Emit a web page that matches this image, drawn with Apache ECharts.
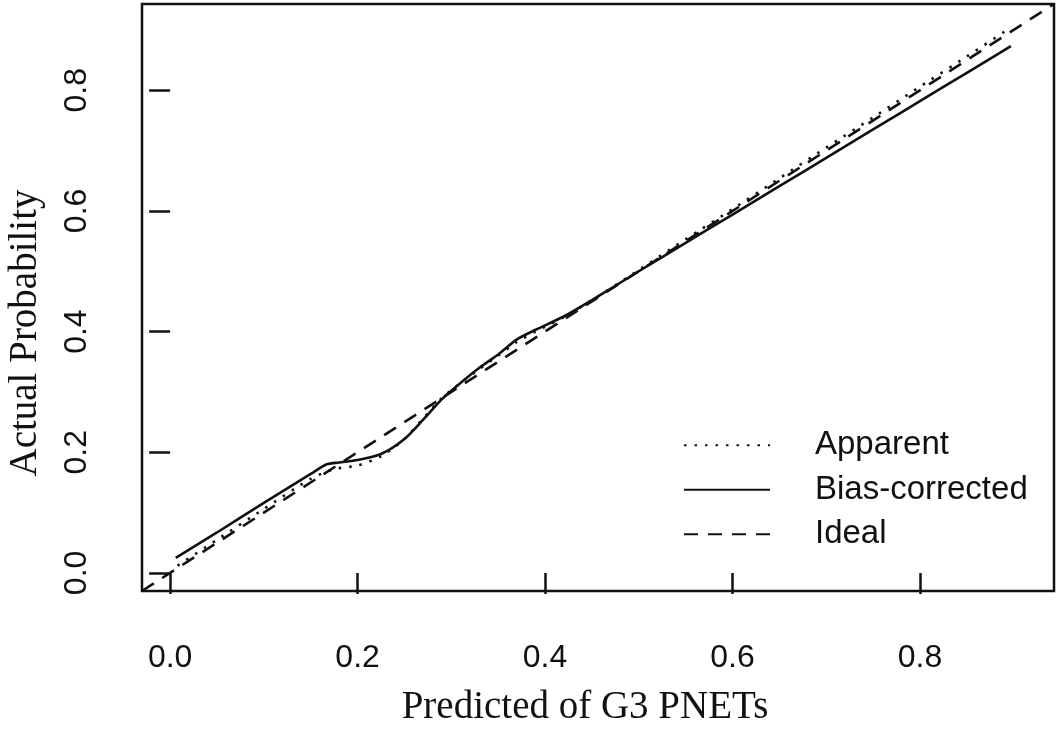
<!DOCTYPE html>
<html><head><meta charset="utf-8">
<script src="https://cdn.jsdelivr.net/npm/echarts@6/dist/echarts.min.js"></script>
<style>html,body{margin:0;padding:0;background:#fff}#c{width:1063px;height:731px}</style>
</head><body><div id="c"></div>
<script>
const tickValues = [0.0, 0.2, 0.4, 0.6, 0.8];
const axisMin = -0.03;
const axisMax = 0.943;
const seriesNames = ['Apparent', 'Bias-corrected', 'Ideal'];
const xTitle = 'Predicted of G3 PNETs';
const yTitle = 'Actual Probability';

const apparentX = [0.008, 0.05, 0.10, 0.15, 0.175, 0.20, 0.225, 0.25, 0.27, 0.29, 0.31, 0.33, 0.35, 0.37, 0.39, 0.42, 0.45, 0.50, 0.55, 0.60, 0.65, 0.70, 0.75, 0.80, 0.85, 0.89];
const apparentY = [0.012, 0.055, 0.106, 0.156, 0.172, 0.178, 0.193, 0.222, 0.256, 0.290, 0.315, 0.338, 0.360, 0.383, 0.400, 0.424, 0.452, 0.502, 0.553, 0.603, 0.654, 0.705, 0.755, 0.806, 0.856, 0.897];

const biasX = [0.006, 0.05, 0.10, 0.15, 0.167, 0.18, 0.20, 0.225, 0.25, 0.27, 0.29, 0.31, 0.33, 0.35, 0.37, 0.39, 0.42, 0.45, 0.50, 0.55, 0.60, 0.65, 0.70, 0.75, 0.80, 0.85, 0.897];
const biasY = [0.025, 0.067, 0.116, 0.164, 0.180, 0.183, 0.187, 0.197, 0.222, 0.254, 0.288, 0.315, 0.340, 0.362, 0.387, 0.403, 0.425, 0.452, 0.500, 0.547, 0.594, 0.641, 0.688, 0.735, 0.782, 0.829, 0.873];

const idealX = [-0.03, 0.943];
const idealY = [-0.03, 0.943];

function pairs(xs, ys) { return xs.map((x, i) => [x, ys[i]]); }

const ink = '#111';
const sans = "'Liberation Sans', Arial, sans-serif";
const serif = "'Liberation Serif', 'Times New Roman', serif";

const chart = echarts.init(document.getElementById('c'), null, {renderer: 'canvas'});

function axisCommon() {
  return {
    type: 'value',
    min: axisMin,
    max: axisMax,
    axisLine: {show: false},
    splitLine: {show: false},
    axisTick: {show: true, inside: false, customValues: tickValues, length: 21, lineStyle: {color: ink, width: 2.5}},
    axisLabel: {customValues: tickValues, formatter: v => v.toFixed(1), fontSize: 32, fontFamily: sans, color: ink, margin: 48},
    nameLocation: 'middle',
    nameTextStyle: {fontSize: 39, fontFamily: serif, color: ink}
  };
}

const xAxis = Object.assign(axisCommon(), {name: xTitle, nameGap: 97});
xAxis.nameTextStyle = Object.assign({}, xAxis.nameTextStyle, {padding: [0, 26, 0, 0]});
xAxis.axisLabel = Object.assign({}, xAxis.axisLabel, {margin: 51});
const yAxis = Object.assign(axisCommon(), {name: yTitle, nameGap: 97});
yAxis.axisLabel = Object.assign({}, yAxis.axisLabel, {rotate: 90, margin: 49});
yAxis.nameTextStyle = Object.assign({}, yAxis.nameTextStyle, {padding: [0, 71, 0, 0]});

const lineBase = {type: 'line', showSymbol: false, symbol: 'none', color: ink, itemStyle: {color: ink}};

chart.setOption({
  animation: false,
  backgroundColor: '#fff',
  grid: {left: 142, right: 9, top: 4, bottom: 140, show: true, borderColor: ink, borderWidth: 2.5, backgroundColor: 'transparent', outerBoundsMode: 'none', containLabel: false},
  xAxis: xAxis,
  yAxis: yAxis,
  legend: {
    data: seriesNames,
    orient: 'vertical',
    left: 683,
    top: 423,
    padding: 0,
    itemGap: 0,
    itemWidth: 86,
    itemHeight: 14,
    itemStyle: {opacity: 0},
    textStyle: {fontSize: 33, fontFamily: sans, color: ink, lineHeight: 44.5, padding: [0, 0, 0, 40]},
    selectedMode: false
  },
  series: [
    Object.assign({}, lineBase, {name: 'Ideal', data: pairs(idealX, idealY), lineStyle: {color: ink, width: 2.6, type: [14, 10]}, z: 2}),
    Object.assign({}, lineBase, {name: 'Apparent', data: pairs(apparentX, apparentY), smooth: 0.25, lineStyle: {color: ink, width: 2.6, type: [2.5, 8]}, z: 3}),
    Object.assign({}, lineBase, {name: 'Bias-corrected', data: pairs(biasX, biasY), smooth: 0.25, lineStyle: {color: ink, width: 2.6, type: 'solid'}, z: 4})
  ]
});
</script>
</body></html>
